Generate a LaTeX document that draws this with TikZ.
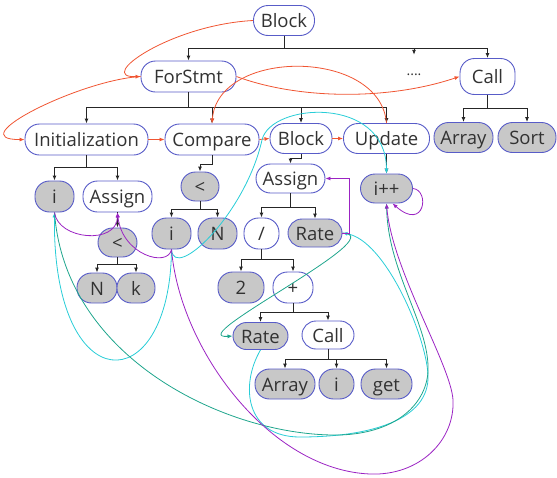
\documentclass[tikz,border=0pt]{standalone}
\usepackage{fontspec}
\setmainfont{Open Sans}
\usetikzlibrary{arrows.meta,calc}

\definecolor{nodeedge}{RGB}{88,92,200}
\definecolor{leaffill}{RGB}{200,200,200}
\definecolor{labelgray}{RGB}{50,50,50}
\definecolor{flowred}{RGB}{240,85,50}
\definecolor{usecyan}{RGB}{40,205,215}
\definecolor{defteal}{RGB}{30,165,140}
\definecolor{compviolet}{RGB}{155,35,195}

\begin{document}
\begin{tikzpicture}[x=1pt,y=-1pt,
  ast/.style={rectangle, rounded corners=14.5pt, draw=nodeedge, line width=0.9pt,
    fill=white, text=labelgray, font=\fontsize{18.5}{20}\selectfont,
    text height=14.5pt, text depth=0pt, inner xsep=2pt, inner ysep=2pt,
    minimum height=30pt},
  leafnode/.style={ast, fill=leaffill},
  treeedge/.style={draw=black!85, line width=0.9pt, -{Latex[length=5pt,width=4pt]}},
  tip/.style={-{Latex[length=5pt,width=4pt]}},
  flowedge/.style={draw=flowred, line width=0.8pt, tip},
  useedge/.style={draw=usecyan, line width=0.8pt, tip},
  defedge/.style={draw=defteal, line width=0.8pt, tip},
  compedge/.style={draw=compviolet, line width=0.8pt, tip}
]
\useasboundingbox (0,0) rectangle (557,477);

% ---- syntax tree nodes ----
\node[ast, minimum width=61] (blk0) at (284,20.5) {Block};
\node[ast, minimum width=95, minimum height=31] (fors) at (188.5,76.5) {ForStmt};
\node[font=\fontsize{14}{16}\selectfont, text=labelgray, minimum height=40pt, inner sep=0pt] (dots) at (414,75) {....};
\node[ast, minimum width=55, minimum height=36] (callA) at (487.5,76.5) {Call};
\node[ast, minimum width=123, minimum height=31] (init) at (86.5,139.5) {Initialization};
\node[ast, minimum width=94, minimum height=31] (cmp) at (212,139.5) {Compare};
\node[ast, minimum width=62] (blk1) at (301,138.5) {Block};
\node[ast, minimum width=86] (upd) at (386.5,138.5) {Update};
\node[leafnode, minimum width=59] (arrA) at (463.5,137.5) {Array};
\node[leafnode, minimum width=58] (sort) at (527,137.5) {Sort};

\node[leafnode, minimum width=39, minimum height=31] (iA) at (54.5,196.5) {i};
\node[ast, minimum width=69, minimum height=31] (asgA) at (117.5,196.5) {Assign};
\node[leafnode, minimum width=39, minimum height=29] (ltA) at (117.5,242.5) {<};
\node[leafnode, minimum width=40] (nA) at (97,288) {N};
\node[leafnode, minimum width=38] (kA) at (136,288) {k};

\node[leafnode, minimum width=38, minimum height=29] (ltB) at (200,186.5) {<};
\node[leafnode, minimum width=39, minimum height=31] (iB) at (171.5,233.5) {i};
\node[leafnode, minimum width=39, minimum height=31] (nB) at (217.5,233.5) {N};

\node[ast, minimum width=69, minimum height=29] (asgB) at (290.5,178.5) {Assign};
\node[ast, minimum width=35, minimum height=31] (divB) at (261.5,233.5) {/};
\node[leafnode, minimum width=54, minimum height=28, rounded corners=14pt] (rateB) at (315,233) {Rate};
\node[leafnode, minimum width=46, minimum height=31] (two) at (241,287.5) {2};
\node[ast, minimum width=40, minimum height=31] (plus) at (293,287.5) {+};
\node[leafnode, minimum width=55, minimum height=27, rounded corners=13.5pt] (rateC) at (260.5,336) {Rate};
\node[ast, minimum width=52, minimum height=28, rounded corners=14pt] (callB) at (328,335) {Call};
\node[leafnode, minimum width=60] (arrB) at (285,384) {Array};
\node[leafnode, minimum width=35] (iC) at (336.5,384) {i};
\node[leafnode, minimum width=51] (get) at (386.5,384) {get};

\node[leafnode, minimum width=52, minimum height=29] (ipp) at (386.5,188.5) {i++};

% ---- child edges ----
\foreach \c in {fors,dots,callA} \draw[treeedge] (blk0.south) -- ++(0,12) -| (\c.north);
\foreach \c in {init,cmp,blk1,upd} \draw[treeedge] (fors.south) -- ++(0,15) -| (\c.north);
\foreach \c in {arrA,sort} \draw[treeedge] (callA.south) -- ++(0,13.5) -| (\c.north);
\foreach \c in {iA,asgA} \draw[treeedge] (init.south) -- ++(0,12) -| (\c.north);
\draw[treeedge] (asgA.south) -- (ltA.north);
\foreach \c in {nA,kA} \draw[treeedge] (ltA.south) -- ++(0,7) -| (\c.north);
\draw[treeedge] (cmp.south) -- ++(0,9) -| (ltB.north);
\foreach \c in {iB,nB} \draw[treeedge] (ltB.south) -- ++(0,8) -| (\c.north);
\draw[treeedge] (blk1.south) -- ++(0,4) -| (asgB.north);
\foreach \c in {divB,rateB} \draw[treeedge] (asgB.south) -- ++(0,14) -| (\c.north);
\foreach \c in {two,plus} \draw[treeedge] (divB.south) -- ++(0,10) -| (\c.north);
\foreach \c in {rateC,callB} \draw[treeedge] (plus.south) -- ++(0,9) -| (\c.north);
\foreach \c in {arrB,iC,get} \draw[treeedge] (callB.south) -- ++(0,10) -| (\c.north);
\draw[treeedge] (upd.south) -- (ipp.north);

% ---- control flow ----
\draw[flowedge] (blk0.west) .. controls (170,25) and (95,78) .. (fors.west);
\draw[flowedge] (fors.west) .. controls (80,80) and (-40,140) .. (init.west);
\draw[flowedge] (init.east) -- (cmp.west);
\draw[flowedge] (cmp.east) -- (blk1.west);
\draw[flowedge] (blk1.east) -- (upd.west);
\draw[flowedge] (upd.north) .. controls (380,48) and (218,48) .. (cmp.north);
\draw[flowedge] (fors.east) .. controls (300,100) and (390,100) .. (callA.west);

% ---- variable uses ----
\draw[useedge] (iB.south) .. controls (174,282) and (245,215) .. (262,140)
  .. controls (270.5,102.5) and (386,95) .. (ipp.north);
\draw[useedge] (iB.south) .. controls (170,402) and (52,402) .. (iA.south);
\draw[useedge] (rateC.south) .. controls (240,385) and (245,437) .. (300,437)
  .. controls (370,437) and (430,420) .. (428,375)
  .. controls (426,335) and (385,240) .. (rateB.east);

% ---- variable writes ----
\draw[defedge] (iA.south) .. controls (65,360) and (230,437) .. (340,435)
  .. controls (400,433) and (430,400) .. (428,365)
  .. controls (426,320) and (388,270) .. (ipp.south);
\draw[defedge] (rateB.east) .. controls (395,235) and (180,340) .. (rateC.west);

% ---- computed from ----
\draw[compedge] (iA.south) .. controls (58,240) and (117,245) .. (asgA.south);
\draw[compedge] (iB.south) .. controls (168,268) and (122,255) .. (asgA.south);
\draw[compedge] (iB.south) .. controls (180,350) and (270,470) .. (370,474)
  .. controls (420,476) and (455,440) .. (453,400)
  .. controls (451,365) and (392,270) .. (ipp.south);
\draw[compedge] (ipp.east) .. controls (430,190) and (425,232) .. ([xshift=6pt]ipp.south);
\draw[compedge] (rateB.east) -- ++(7,0) |- (asgB.east);
\end{tikzpicture}
\end{document}
